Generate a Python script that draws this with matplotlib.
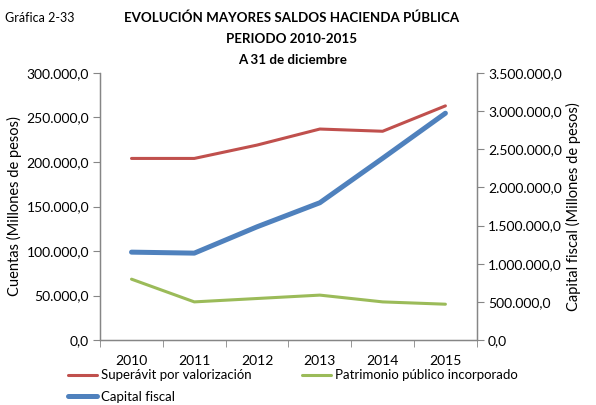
import matplotlib
matplotlib.use("Agg")
import matplotlib.pyplot as plt
from matplotlib.ticker import FuncFormatter, MultipleLocator, FixedLocator

years = ["2010", "2011", "2012", "2013", "2014", "2015"]
superavit = [204000, 204000, 219000, 237000, 234500, 263000]
patrimonio = [68500, 43000, 46800, 50600, 43000, 40400]
capital_fiscal = [1153000, 1140000, 1485000, 1800000, 2382000, 2972000]

plt.rcParams['font.family'] = ['Lato', 'DejaVu Sans']

RED = '#C0504D'
GREEN = '#9BBB59'
BLUE = '#4F81BD'
GRAY = '#868686'


def es_fmt(v, pos=None):
    s = f"{v:,.1f}"
    return s.replace(",", "X").replace(".", ",").replace("X", ".")


fig = plt.figure(figsize=(5.96, 4.05), dpi=100)
ax = fig.add_axes([0.168, 0.160, 0.632, 0.660])
ax2 = ax.twinx()

x = list(range(len(years)))
l1, = ax.plot(x, superavit, color=RED, lw=2.2, solid_capstyle='round')
l2, = ax.plot(x, patrimonio, color=GREEN, lw=2.2, solid_capstyle='round')
l3, = ax2.plot(x, capital_fiscal, color=BLUE, lw=3.6, solid_capstyle='round')

ax.set_xlim(-0.5, len(years) - 0.5)
ax.set_ylim(0, 300000)
ax2.set_ylim(0, 3500000)
ax.yaxis.set_major_locator(MultipleLocator(50000))
ax2.yaxis.set_major_locator(MultipleLocator(500000))
ax.yaxis.set_major_formatter(FuncFormatter(es_fmt))
ax2.yaxis.set_major_formatter(FuncFormatter(es_fmt))

ax.set_xticks(x)
ax.set_xticklabels(years)
ax.xaxis.set_minor_locator(FixedLocator([i - 0.5 for i in range(len(years) + 1)]))
ax.tick_params(axis='x', which='major', length=0, pad=11, labelsize=10)
ax.tick_params(axis='x', which='minor', length=5, color=GRAY, direction='out')
ax.tick_params(axis='y', length=5, color=GRAY, labelsize=10, pad=3)
ax2.tick_params(axis='y', length=5, color=GRAY, labelsize=10, pad=3)

for a in (ax, ax2):
    a.spines['top'].set_visible(False)
    for s in ('left', 'right', 'bottom'):
        a.spines[s].set_color(GRAY)
        a.spines[s].set_linewidth(0.9)

ax.set_ylabel("Cuentas (Millones de pesos)", fontsize=10.5, labelpad=3)
ax2.set_ylabel("Capital fiscal (Millones de pesos)", fontsize=10.5, labelpad=3)

fig.text(0.008, 0.955, "Gráfica 2-33", fontsize=9, ha='left', va='center')
fig.text(0.49, 0.955, "EVOLUCIÓN MAYORES SALDOS HACIENDA PÚBLICA", fontsize=9.6,
         fontweight='bold', ha='center', va='center')
fig.text(0.49, 0.903, "PERIODO 2010-2015", fontsize=9.6,
         fontweight='bold', ha='center', va='center')
fig.text(0.49, 0.853, "A 31 de diciembre", fontsize=9.6,
         fontweight='bold', ha='center', va='center')

fig.legend([l1, l3, l2],
           ["Superávit por valorización", "Capital fiscal", "Patrimonio público incorporado"],
           ncol=2, loc='upper left', bbox_to_anchor=(0.114, 0.088), frameon=False,
           fontsize=9.5, handlelength=2.2, handletextpad=0.3, columnspacing=3.8,
           labelspacing=0.7, borderaxespad=0, borderpad=0)

fig.savefig("out.png", dpi=100)
